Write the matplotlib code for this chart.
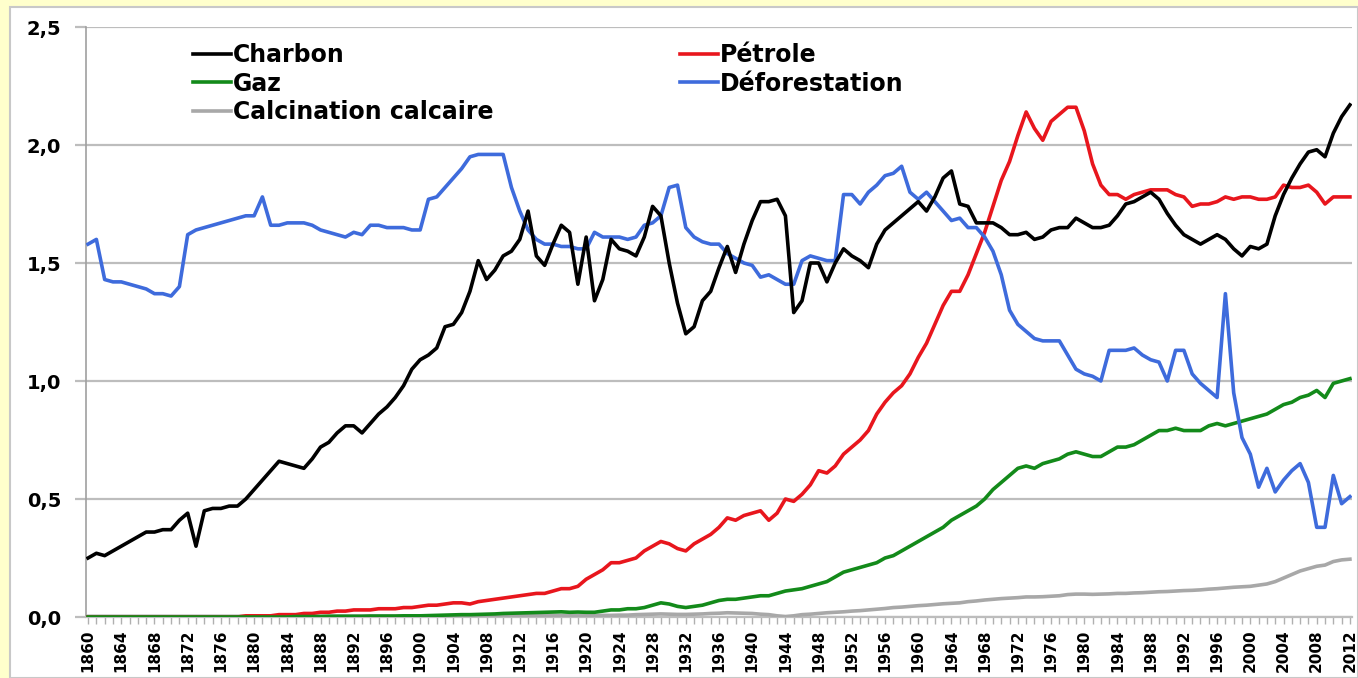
import numpy as np
import matplotlib
matplotlib.use('Agg')
import matplotlib.pyplot as plt
from matplotlib.patches import Rectangle
from matplotlib.ticker import MultipleLocator, FixedLocator, FuncFormatter

# Années
years = np.arange(1860, 2013)

# Charbon
charbon = [
    0.25, 0.27, 0.26, 0.28, 0.30, 0.32, 0.34, 0.36, 0.36, 0.37,   # 1860
    0.37, 0.41, 0.44, 0.30, 0.45, 0.46, 0.46, 0.47, 0.47, 0.50,   # 1870
    0.54, 0.58, 0.62, 0.66, 0.65, 0.64, 0.63, 0.67, 0.72, 0.74,   # 1880
    0.78, 0.81, 0.81, 0.78, 0.82, 0.86, 0.89, 0.93, 0.98, 1.05,   # 1890
    1.09, 1.11, 1.14, 1.23, 1.24, 1.29, 1.38, 1.51, 1.43, 1.47,   # 1900
    1.53, 1.55, 1.60, 1.72, 1.53, 1.49, 1.58, 1.66, 1.63, 1.41,   # 1910
    1.61, 1.34, 1.43, 1.60, 1.56, 1.55, 1.53, 1.61, 1.74, 1.70,   # 1920
    1.50, 1.33, 1.20, 1.23, 1.34, 1.38, 1.48, 1.57, 1.46, 1.58,   # 1930
    1.68, 1.76, 1.76, 1.77, 1.70, 1.29, 1.34, 1.50, 1.50, 1.42,   # 1940
    1.50, 1.56, 1.53, 1.51, 1.48, 1.58, 1.64, 1.67, 1.70, 1.73,   # 1950
    1.76, 1.72, 1.78, 1.86, 1.89, 1.75, 1.74, 1.67, 1.67, 1.67,   # 1960
    1.65, 1.62, 1.62, 1.63, 1.60, 1.61, 1.64, 1.65, 1.65, 1.69,   # 1970
    1.67, 1.65, 1.65, 1.66, 1.70, 1.75, 1.76, 1.78, 1.80, 1.77,   # 1980
    1.71, 1.66, 1.62, 1.60, 1.58, 1.60, 1.62, 1.60, 1.56, 1.53,   # 1990
    1.57, 1.56, 1.58, 1.70, 1.79, 1.86, 1.92, 1.97, 1.98, 1.95,   # 2000
    2.05, 2.12, 2.17,                                             # 2010
]

# Pétrole
petrole = [
    0.0, 0.0, 0.0, 0.0, 0.0, 0.0, 0.0, 0.0, 0.0, 0.0,
    0.0, 0.0, 0.0, 0.0, 0.0, 0.0, 0.0, 0.0, 0.0, 0.005,
    0.005, 0.005, 0.005, 0.01, 0.01, 0.01, 0.015, 0.015, 0.02, 0.02,
    0.025, 0.025, 0.03, 0.03, 0.03, 0.035, 0.035, 0.035, 0.04, 0.04,
    0.045, 0.05, 0.05, 0.055, 0.06, 0.06, 0.055, 0.065, 0.07, 0.075,
    0.08, 0.085, 0.09, 0.095, 0.10, 0.10, 0.11, 0.12, 0.12, 0.13,
    0.16, 0.18, 0.20, 0.23, 0.23, 0.24, 0.25, 0.28, 0.30, 0.32,
    0.31, 0.29, 0.28, 0.31, 0.33, 0.35, 0.38, 0.42, 0.41, 0.43,
    0.44, 0.45, 0.41, 0.44, 0.50, 0.49, 0.52, 0.56, 0.62, 0.61,
    0.64, 0.69, 0.72, 0.75, 0.79, 0.86, 0.91, 0.95, 0.98, 1.03,
    1.10, 1.16, 1.24, 1.32, 1.38, 1.38, 1.45, 1.54, 1.63, 1.74,
    1.85, 1.93, 2.04, 2.14, 2.07, 2.02, 2.10, 2.13, 2.16, 2.16,
    2.06, 1.92, 1.83, 1.79, 1.79, 1.77, 1.79, 1.80, 1.81, 1.81,
    1.81, 1.79, 1.78, 1.74, 1.75, 1.75, 1.76, 1.78, 1.77, 1.78,
    1.78, 1.77, 1.77, 1.78, 1.83, 1.82, 1.82, 1.83, 1.80, 1.75,
    1.78, 1.78, 1.78,
]

# Gaz
gaz = [
    0.0, 0.0, 0.0, 0.0, 0.0, 0.0, 0.0, 0.0, 0.0, 0.0,
    0.0, 0.0, 0.0, 0.0, 0.0, 0.0, 0.0, 0.0, 0.0, 0.0,
    0.0, 0.0, 0.0, 0.0, 0.0, 0.002, 0.002, 0.002, 0.002, 0.003,
    0.003, 0.003, 0.003, 0.003, 0.004, 0.004, 0.004, 0.004, 0.005, 0.005,
    0.005, 0.006, 0.007, 0.008, 0.009, 0.010, 0.010, 0.011, 0.012, 0.013,
    0.015, 0.016, 0.017, 0.018, 0.019, 0.020, 0.021, 0.022, 0.020, 0.021,
    0.020, 0.020, 0.025, 0.030, 0.030, 0.035, 0.035, 0.040, 0.050, 0.060,
    0.055, 0.045, 0.040, 0.045, 0.050, 0.060, 0.070, 0.075, 0.075, 0.080,
    0.085, 0.090, 0.090, 0.10, 0.11, 0.115, 0.12, 0.13, 0.14, 0.15,
    0.17, 0.19, 0.20, 0.21, 0.22, 0.23, 0.25, 0.26, 0.28, 0.30,
    0.32, 0.34, 0.36, 0.38, 0.41, 0.43, 0.45, 0.47, 0.50, 0.54,
    0.57, 0.60, 0.63, 0.64, 0.63, 0.65, 0.66, 0.67, 0.69, 0.70,
    0.69, 0.68, 0.68, 0.70, 0.72, 0.72, 0.73, 0.75, 0.77, 0.79,
    0.79, 0.80, 0.79, 0.79, 0.79, 0.81, 0.82, 0.81, 0.82, 0.83,
    0.84, 0.85, 0.86, 0.88, 0.90, 0.91, 0.93, 0.94, 0.96, 0.93,
    0.99, 1.00, 1.01,
]

# Déforestation
deforestation = [
    1.58, 1.60, 1.43, 1.42, 1.42, 1.41, 1.40, 1.39, 1.37, 1.37,
    1.36, 1.40, 1.62, 1.64, 1.65, 1.66, 1.67, 1.68, 1.69, 1.70,
    1.70, 1.78, 1.66, 1.66, 1.67, 1.67, 1.67, 1.66, 1.64, 1.63,
    1.62, 1.61, 1.63, 1.62, 1.66, 1.66, 1.65, 1.65, 1.65, 1.64,
    1.64, 1.77, 1.78, 1.82, 1.86, 1.90, 1.95, 1.96, 1.96, 1.96,
    1.96, 1.82, 1.72, 1.64, 1.60, 1.58, 1.58, 1.57, 1.57, 1.56,
    1.56, 1.63, 1.61, 1.61, 1.61, 1.60, 1.61, 1.66, 1.67, 1.70,
    1.82, 1.83, 1.65, 1.61, 1.59, 1.58, 1.58, 1.54, 1.52, 1.50,
    1.49, 1.44, 1.45, 1.43, 1.41, 1.41, 1.51, 1.53, 1.52, 1.51,
    1.51, 1.79, 1.79, 1.75, 1.80, 1.83, 1.87, 1.88, 1.91, 1.80,
    1.77, 1.80, 1.76, 1.72, 1.68, 1.69, 1.65, 1.65, 1.61, 1.55,
    1.45, 1.30, 1.24, 1.21, 1.18, 1.17, 1.17, 1.17, 1.11, 1.05,
    1.03, 1.02, 1.00, 1.13, 1.13, 1.13, 1.14, 1.11, 1.09, 1.08,
    1.00, 1.13, 1.13, 1.03, 0.99, 0.96, 0.93, 1.37, 0.95, 0.76,
    0.69, 0.55, 0.63, 0.53, 0.58, 0.62, 0.65, 0.57, 0.38, 0.38,
    0.60, 0.48, 0.51,
]

# Calcination calcaire
calcination = [
    0.003, 0.003, 0.003, 0.003, 0.003, 0.003, 0.003, 0.003, 0.003, 0.003,
    0.003, 0.003, 0.003, 0.003, 0.003, 0.003, 0.003, 0.003, 0.003, 0.003,
    0.003, 0.003, 0.003, 0.003, 0.003, 0.003, 0.003, 0.003, 0.003, 0.003,
    0.004, 0.004, 0.004, 0.004, 0.004, 0.004, 0.004, 0.004, 0.004, 0.004,
    0.005, 0.005, 0.005, 0.005, 0.005, 0.005, 0.005, 0.005, 0.005, 0.005,
    0.005, 0.005, 0.006, 0.006, 0.006, 0.006, 0.006, 0.006, 0.006, 0.006,
    0.006, 0.006, 0.007, 0.007, 0.008, 0.008, 0.010, 0.011, 0.012, 0.013,
    0.012, 0.011, 0.011, 0.012, 0.013, 0.015, 0.016, 0.018, 0.017, 0.016,
    0.015, 0.012, 0.010, 0.005, 0.002, 0.005, 0.010, 0.012, 0.015, 0.018,
    0.020, 0.022, 0.025, 0.027, 0.030, 0.033, 0.036, 0.040, 0.042, 0.045,
    0.048, 0.050, 0.053, 0.056, 0.058, 0.060, 0.065, 0.068, 0.072, 0.075,
    0.078, 0.080, 0.082, 0.085, 0.085, 0.086, 0.088, 0.090, 0.095, 0.097,
    0.097, 0.096, 0.097, 0.098, 0.100, 0.100, 0.102, 0.103, 0.105, 0.107,
    0.108, 0.110, 0.112, 0.113, 0.115, 0.118, 0.120, 0.123, 0.126, 0.128,
    0.130, 0.135, 0.140, 0.150, 0.165, 0.180, 0.195, 0.205, 0.215, 0.220,
    0.235, 0.242, 0.245,
]

plt.rcParams['font.family'] = ['DejaVu Sans']
plt.rcParams['font.weight'] = 'bold'

fig = plt.figure(figsize=(13.58, 6.78), dpi=100, facecolor='#FFFFCC')
# panneau blanc derrière le graphique
fig.patches.append(Rectangle((10 / 1358, 0), 1 - 10 / 1358, 1 - 7 / 678,
                             transform=fig.transFigure, facecolor='white',
                             edgecolor='#c8c8c8', linewidth=1.5, zorder=-10))

ax = fig.add_axes([86 / 1358, 1 - 617 / 678, (1352 - 86) / 1358, (617 - 27) / 678])
ax.set_zorder(1)
ax.set_facecolor('white')

lw = 2.6
l_ch, = ax.plot(years, charbon, color='black', lw=lw, label='Charbon', zorder=5)
l_pe, = ax.plot(years, petrole, color='#e8161d', lw=lw, label='Pétrole', zorder=4)
l_ga, = ax.plot(years, gaz, color='#138a1a', lw=lw, label='Gaz', zorder=4)
l_de, = ax.plot(years, deforestation, color='#3e6bdc', lw=lw, label='Déforestation', zorder=4)
l_ca, = ax.plot(years, calcination, color='#a8a8a8', lw=lw, label='Calcination calcaire', zorder=3)

ax.set_ylim(0, 2.5)
ax.set_xlim(1859.75, 2012.25)

ax.yaxis.set_major_locator(MultipleLocator(0.5))
ax.yaxis.set_major_formatter(FuncFormatter(lambda v, p: f'{v:.1f}'.replace('.', ',')))
ax.grid(axis='y', color='#bdbdbd', lw=1.6, zorder=1)
ax.set_axisbelow(True)

xt = list(range(1860, 2013, 4))
ax.xaxis.set_major_locator(FixedLocator(xt))
ax.xaxis.set_minor_locator(MultipleLocator(1))
ax.set_xticklabels([str(y) for y in xt], rotation=90, fontsize=11, fontweight='bold')
ax.tick_params(axis='x', which='both', length=5, width=1, color='#b0b0b0', pad=4)
ax.tick_params(axis='y', length=8, width=1.6, color='#bdbdbd', pad=10, labelsize=14)
for t in ax.get_yticklabels():
    t.set_fontweight('bold')

for s in ['top', 'right']:
    ax.spines[s].set_visible(False)
ax.spines['left'].set_color('#a0a0a0')
ax.spines['left'].set_linewidth(1.2)
ax.spines['bottom'].set_color('#bdbdbd')
ax.spines['bottom'].set_linewidth(1.6)

leg = ax.legend(handles=[l_ch, l_ga, l_ca, l_pe, l_de], ncol=2, loc='upper left',
                bbox_to_anchor=(193 / 1358, 1 - 43 / 678), bbox_transform=fig.transFigure,
                frameon=False, prop={'size': 17, 'weight': 'bold'}, handlelength=1.6,
                handletextpad=0.1, labelspacing=0.2, columnspacing=7.9,
                borderpad=0, borderaxespad=0)

fig.savefig('out.png', dpi=100, facecolor=fig.get_facecolor())
